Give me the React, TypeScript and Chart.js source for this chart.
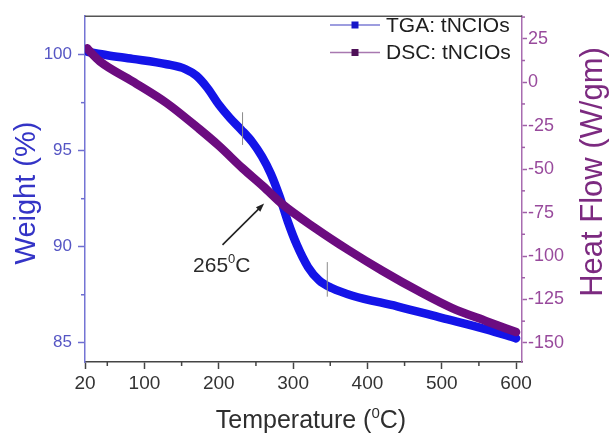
import React, { useEffect, useRef } from 'react';
import { Chart, registerables } from 'chart.js';
Chart.register(...registerables);

// ---- Data ----
const tgaTemp = [23, 50, 84, 130, 155, 170, 185, 200, 215, 230, 245, 258, 270, 282, 293, 305, 320, 335, 352, 380, 440, 500, 560, 600];
const tgaWeight = [100.15, 99.97, 99.78, 99.5, 99.25, 98.9, 98.25, 97.4, 96.7, 96.1, 95.45, 94.7, 93.8, 92.6, 91.3, 90.1, 88.95, 88.25, 87.85, 87.45, 86.9, 86.3, 85.7, 85.23];
const dscTemp = [23, 28, 40, 84, 130, 174, 200, 232, 260, 285, 330, 376, 420, 470, 514, 560, 600];
const dscHeat = [19.5, 17, 12, 0.5, -12, -27, -36.5, -49.5, -60, -70, -84, -97, -108.5, -120.5, -130, -137.5, -143.75];

const xTicks = [20, 100, 200, 300, 400, 500, 600];
const xMinorTicks = [50, 150, 250, 350, 450, 550];
const weightTicks = [85, 90, 95, 100];
const weightMinorTicks = [87.5, 92.5, 97.5];
const heatTicks = [-150, -125, -100, -75, -50, -25, 0, 25];
const heatMinorTicks = [-137.5, -112.5, -87.5, -62.5, -37.5, -12.5, 12.5, 37.5];

const seriesLabels = ['TGA: tNCIOs', 'DSC: tNCIOs'];
// onset markers on the TGA curve: [temperature, weight from, weight to]
const onsetMarkers = [
  [232, 97.0, 95.3],
  [346, 89.2, 87.4],
];
// annotation: arrow tail / tip (temperature, weight) and label
const arrowTail = [205, 90.1];
const arrowTip = [261, 92.25];
const annotationLabel = ['265', '0', 'C'];
const annotationAnchor = [204, 88.67];

const FONT = "'Liberation Sans', Arial, Helvetica, sans-serif";
const BLUE = '#1414e8';
const PURPLE = '#6c0c80';

function drawSupText(ctx: CanvasRenderingContext2D, parts: string[], cx: number, baseline: number, size: number, color: string) {
  ctx.save();
  ctx.fillStyle = color;
  ctx.textBaseline = 'alphabetic';
  ctx.textAlign = 'left';
  const supSize = Math.round(size * 0.6);
  ctx.font = `${size}px ${FONT}`;
  const w0 = ctx.measureText(parts[0]).width;
  const w2 = ctx.measureText(parts[2]).width;
  ctx.font = `${supSize}px ${FONT}`;
  const w1 = ctx.measureText(parts[1]).width;
  const total = w0 + w1 + w2;
  let x = cx - total / 2;
  ctx.font = `${size}px ${FONT}`;
  ctx.fillText(parts[0], x, baseline);
  x += w0;
  ctx.font = `${supSize}px ${FONT}`;
  ctx.fillText(parts[1], x, baseline - size * 0.42);
  x += w1;
  ctx.font = `${size}px ${FONT}`;
  ctx.fillText(parts[2], x, baseline);
  ctx.restore();
}

const decorPlugin = {
  id: 'decor',
  afterDraw(chart: any) {
    const ctx: CanvasRenderingContext2D = chart.ctx;
    const { left, right, top, bottom } = chart.chartArea;
    const xs = chart.scales.x;
    const ys = chart.scales.y;
    const y1 = chart.scales.y1;
    ctx.save();

    // top frame
    ctx.strokeStyle = '#555';
    ctx.lineWidth = 1.5;
    ctx.beginPath();
    ctx.moveTo(left, top);
    ctx.lineTo(right, top);
    ctx.stroke();

    // minor ticks
    ctx.lineWidth = 1.5;
    ctx.strokeStyle = '#444';
    xMinorTicks.forEach((v) => {
      const px = xs.getPixelForValue(v);
      ctx.beginPath();
      ctx.moveTo(px, bottom);
      ctx.lineTo(px, bottom + 4);
      ctx.stroke();
    });
    ctx.strokeStyle = '#6e6ed0';
    weightMinorTicks.forEach((v) => {
      const py = ys.getPixelForValue(v);
      ctx.beginPath();
      ctx.moveTo(left, py);
      ctx.lineTo(left - 4, py);
      ctx.stroke();
    });
    ctx.strokeStyle = '#a060a8';
    heatMinorTicks.forEach((v) => {
      const py = y1.getPixelForValue(v);
      if (py < top - 1 || py > bottom + 1) return;
      ctx.beginPath();
      ctx.moveTo(right, py);
      ctx.lineTo(right + 3, py);
      ctx.stroke();
    });

    // onset markers
    ctx.strokeStyle = '#8a8a8a';
    ctx.lineWidth = 1;
    onsetMarkers.forEach(([t, w0, w1]) => {
      const px = xs.getPixelForValue(t);
      ctx.beginPath();
      ctx.moveTo(px, ys.getPixelForValue(w0));
      ctx.lineTo(px, ys.getPixelForValue(w1));
      ctx.stroke();
    });

    // arrow
    const ax0 = xs.getPixelForValue(arrowTail[0]);
    const ay0 = ys.getPixelForValue(arrowTail[1]);
    const ax1 = xs.getPixelForValue(arrowTip[0]);
    const ay1 = ys.getPixelForValue(arrowTip[1]);
    const ang = Math.atan2(ay1 - ay0, ax1 - ax0);
    const headLen = 9;
    ctx.strokeStyle = '#222';
    ctx.fillStyle = '#222';
    ctx.lineWidth = 1.6;
    ctx.beginPath();
    ctx.moveTo(ax0, ay0);
    ctx.lineTo(ax1 - Math.cos(ang) * headLen * 0.8, ay1 - Math.sin(ang) * headLen * 0.8);
    ctx.stroke();
    ctx.beginPath();
    ctx.moveTo(ax1, ay1);
    ctx.lineTo(ax1 - headLen * Math.cos(ang - 0.35), ay1 - headLen * Math.sin(ang - 0.35));
    ctx.lineTo(ax1 - headLen * Math.cos(ang + 0.35), ay1 - headLen * Math.sin(ang + 0.35));
    ctx.closePath();
    ctx.fill();

    // annotation label
    drawSupText(ctx, annotationLabel, xs.getPixelForValue(annotationAnchor[0]), ys.getPixelForValue(annotationAnchor[1]), 21, '#2a2a2a');

    // legend
    const legendColors = [
      { line: '#7c7cd4', mark: '#1616c8' },
      { line: '#a878b0', mark: '#4e1058' },
    ];
    seriesLabels.forEach((label, i) => {
      const ly = 25 + i * 27.5;
      ctx.strokeStyle = legendColors[i].line;
      ctx.lineWidth = 1.5;
      ctx.beginPath();
      ctx.moveTo(330, ly);
      ctx.lineTo(380, ly);
      ctx.stroke();
      ctx.fillStyle = legendColors[i].mark;
      ctx.fillRect(351.5, ly - 3.5, 7, 7);
      ctx.fillStyle = '#1e1e1e';
      ctx.font = `21px ${FONT}`;
      ctx.textAlign = 'left';
      ctx.textBaseline = 'middle';
      ctx.fillText(label, 386, ly + 1);
    });

    // axis titles
    ctx.save();
    ctx.translate(27, 193);
    ctx.rotate(-Math.PI / 2);
    ctx.font = `29px ${FONT}`;
    ctx.fillStyle = '#3434c6';
    ctx.textAlign = 'center';
    ctx.textBaseline = 'middle';
    ctx.fillText('Weight (%)', 0, 0);
    ctx.restore();

    ctx.save();
    ctx.translate(593, 172);
    ctx.rotate(-Math.PI / 2);
    ctx.font = `31px ${FONT}`;
    ctx.fillStyle = '#7c2a80';
    ctx.textAlign = 'center';
    ctx.textBaseline = 'middle';
    ctx.fillText('Heat Flow (W/gm)', 0, 0);
    ctx.restore();

    drawSupText(ctx, ['Temperature (', '0', 'C)'], 311, 428, 25, '#2e2e2e');

    ctx.restore();
  },
};

export default function App() {
  const ref = useRef<HTMLCanvasElement>(null);
  useEffect(() => {
    document.body.style.margin = '0';
    const canvas = ref.current!;
    const chart = new Chart(canvas, {
      type: 'line',
      data: {
        datasets: [
          {
            label: seriesLabels[0],
            data: tgaTemp.map((t, i) => ({ x: t, y: tgaWeight[i] })),
            borderColor: BLUE,
            backgroundColor: BLUE,
            borderWidth: 8.5,
            pointRadius: 0,
            cubicInterpolationMode: 'monotone',
            borderCapStyle: 'round',
            borderJoinStyle: 'round',
            yAxisID: 'y',
            order: 1,
          },
          {
            label: seriesLabels[1],
            data: dscTemp.map((t, i) => ({ x: t, y: dscHeat[i] })),
            borderColor: PURPLE,
            backgroundColor: PURPLE,
            borderWidth: 8.5,
            pointRadius: 0,
            cubicInterpolationMode: 'monotone',
            borderCapStyle: 'round',
            borderJoinStyle: 'round',
            yAxisID: 'y1',
            order: 0,
          },
        ],
      },
      options: {
        animation: false,
        responsive: false,
        devicePixelRatio: 1,
        layout: { padding: { top: 12, left: 0, right: 0, bottom: 0 } },
        plugins: { legend: { display: false }, tooltip: { enabled: false } },
        scales: {
          x: {
            type: 'linear',
            position: 'bottom',
            min: 20,
            max: 608,
            afterBuildTicks: (s: any) => { s.ticks = xTicks.map((v) => ({ value: v })); },
            afterFit: (s: any) => { s.height = 74; },
            ticks: { color: '#333', font: { size: 19, family: FONT }, padding: 3, maxRotation: 0, autoSkip: false },
            grid: { drawOnChartArea: false, tickLength: 7, tickColor: '#444', tickWidth: 1.5 },
            border: { color: '#444', width: 1.5 },
          },
          y: {
            type: 'linear',
            position: 'left',
            min: 84,
            max: 102,
            afterBuildTicks: (s: any) => { s.ticks = weightTicks.map((v) => ({ value: v })); },
            afterFit: (s: any) => { s.width = 85; },
            ticks: { color: '#5656c4', font: { size: 17, family: FONT }, padding: 6, autoSkip: false },
            grid: { drawOnChartArea: false, tickLength: 7, tickColor: '#6e6ed0', tickWidth: 1.5 },
            border: { color: '#7474d4', width: 1.5 },
          },
          y1: {
            type: 'linear',
            position: 'right',
            min: -161,
            max: 38,
            afterBuildTicks: (s: any) => { s.ticks = heatTicks.map((v) => ({ value: v })); },
            afterFit: (s: any) => { s.width = 89; },
            ticks: { color: '#984a9c', font: { size: 18, family: FONT }, padding: 1, autoSkip: false },
            grid: { drawOnChartArea: false, tickLength: 5, tickColor: '#a060a8', tickWidth: 1.5 },
            border: { color: '#a86cb0', width: 1.5 },
          },
        },
      },
      plugins: [decorPlugin],
    } as any);
    return () => chart.destroy();
  }, []);
  return <canvas ref={ref} width={611} height={436} style={{ display: 'block' }} />;
}
